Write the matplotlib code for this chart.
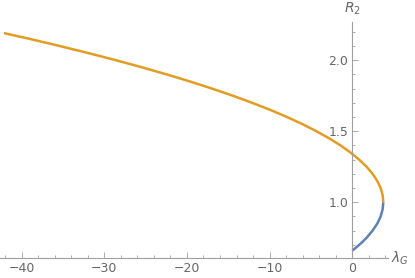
import matplotlib.pyplot as plt
from matplotlib.ticker import MultipleLocator

# values (lambda_G vs R_2)
r_blue = [0.66, 0.68, 0.70, 0.72, 0.75, 0.80, 0.85, 0.90, 0.95, 1.00]
lam_blue = [0.0, 0.43, 0.83, 1.21, 1.73, 2.45, 3.02, 3.43, 3.67, 3.75]

r_orange = [1.00, 1.05, 1.10, 1.15, 1.20, 1.25, 1.30, 1.35, 1.40, 1.45, 1.50,
            1.55, 1.60, 1.65, 1.70, 1.75, 1.80, 1.85, 1.90, 1.95, 2.00,
            2.05, 2.10, 2.15, 2.19]
lam_orange = [3.75, 3.67, 3.43, 3.02, 2.45, 1.73, 0.83, -0.22, -1.43, -2.81,
              -4.35, -6.05, -7.91, -9.94, -12.13, -14.48, -16.99, -19.66,
              -22.49, -25.49, -28.65, -31.97, -35.45, -39.09, -42.13]

blue = '#5E81B5'
orange = '#E19C24'
gray = '#a0a0a0'
txt = '#666666'

fig = plt.figure(figsize=(4.15, 2.78), dpi=100)
ax = fig.add_axes([0.0, 0.071, 388 / 415, 0.851])

ax.plot(lam_blue, r_blue, color=blue, lw=1.8, solid_capstyle='butt')
ax.plot(lam_orange, r_orange, color=orange, lw=1.8, solid_capstyle='butt')

ax.set_xlim(-42.6, 4.32)
ax.set_ylim(0.606, 2.27)

for s in ['top', 'right']:
    ax.spines[s].set_visible(False)
ax.spines['left'].set_position(('data', 0))
ax.spines['left'].set_color(gray)
ax.spines['bottom'].set_color(gray)
ax.spines['left'].set_linewidth(0.8)
ax.spines['bottom'].set_linewidth(0.8)

ax.xaxis.set_major_locator(MultipleLocator(10))
ax.xaxis.set_minor_locator(MultipleLocator(2))
ax.yaxis.set_major_locator(MultipleLocator(0.5))
ax.yaxis.set_minor_locator(MultipleLocator(0.1))
ax.xaxis.set_major_formatter(lambda v, p: '0' if abs(v) < 1e-9 else '\u2212%d' % -v if v < 0 else '%d' % v)
ax.yaxis.set_major_formatter(lambda v, p: '%.1f' % v)

ax.tick_params(axis='both', which='both', direction='in', color=gray,
               labelcolor=txt, labelsize=9, width=0.6)
ax.tick_params(axis='both', which='major', length=4)
ax.tick_params(axis='both', which='minor', length=2)
ax.tick_params(axis='x', pad=3)
ax.tick_params(axis='y', pad=3)

ax.text(1.008, 0.0, r'$\lambda_G$', transform=ax.transAxes, color=txt,
        fontsize=10, ha='left', va='center')
ax.text(352 / 388, 1.02, r'$R_2$', transform=ax.transAxes, color=txt,
        fontsize=10, ha='center', va='bottom')

fig.savefig('out.png', dpi=100)
